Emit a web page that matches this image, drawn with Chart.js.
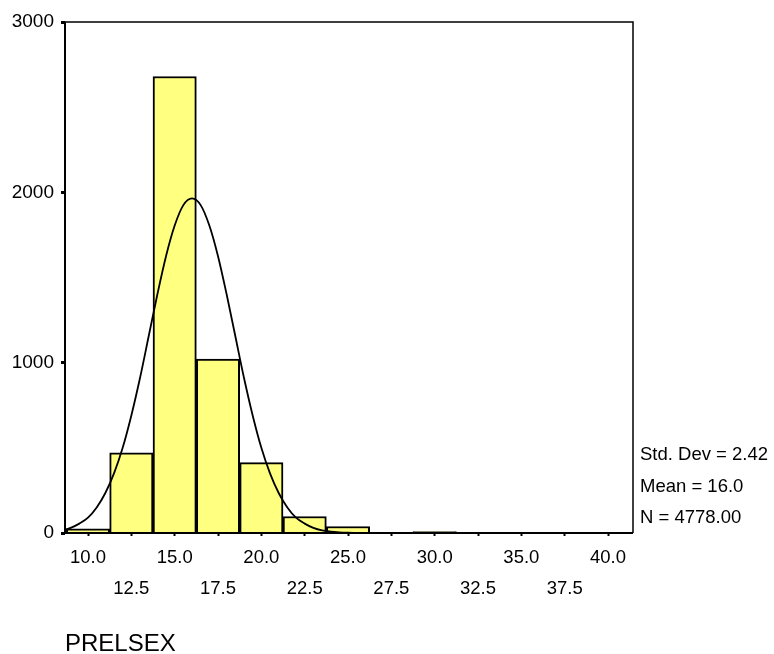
<!DOCTYPE html>
<html>
<head>
<meta charset="utf-8">
<title>PRELSEX</title>
<script src="https://cdn.jsdelivr.net/npm/chart.js@4.4.1/dist/chart.umd.min.js"></script>
<style>
    html, body { margin: 0; padding: 0; background: #fff; }
    canvas { display: block; }
</style>
</head>
<body>
<canvas id="histChart" width="774" height="654"></canvas>
<script>
// histogram bins (centre of each 2.5-wide bin) and their counts
const binCenters = [10.0, 12.5, 15.0, 17.5, 20.0, 22.5, 25.0, 27.5, 30.0, 32.5, 35.0, 37.5, 40.0];
const binCounts = [24, 471, 2680, 1021, 413, 97, 38, 0, 8, 0, 1, 0, 0];

// normal curve overlay
const curveX = [8.7, 9, 9.5, 10, 10.5, 11, 11.5, 12, 12.5, 13, 13.5, 14, 14.5, 15, 15.5, 16, 16.5,
    17, 17.5, 18, 18.5, 19, 19.5, 20, 20.5, 21, 21.5, 22, 22.5, 23, 23.5, 24, 24.5, 25, 25.5];
const curveY = [20, 30, 55, 90, 150, 235, 350, 500, 690, 910, 1155, 1400, 1625, 1805, 1925, 1965, 1925,
    1805, 1625, 1400, 1155, 910, 690, 500, 350, 235, 150, 90, 55, 30, 15, 8, 4, 2, 1];

const xTickValues = [10.0, 12.5, 15.0, 17.5, 20.0, 22.5, 25.0, 27.5, 30.0, 32.5, 35.0, 37.5, 40.0];
const yTickValues = [0, 1000, 2000, 3000];

const statLines = ['Std. Dev = 2.42', 'Mean = 16.0', 'N = 4778.00'];
const axisTitle = 'PRELSEX';

const FONT = '"Liberation Sans", Arial, sans-serif';

// frame around the plot area + summary text + variable name
const framePlugin = {
    id: 'frame',
    afterDraw(chart) {
        const { ctx, chartArea: a } = chart;
        ctx.save();
        ctx.strokeStyle = '#000';
        ctx.lineWidth = 1.5;
        ctx.beginPath();
        ctx.moveTo(a.left, a.top);
        ctx.lineTo(a.right, a.top);
        ctx.lineTo(a.right, a.bottom);
        ctx.stroke();
        ctx.lineWidth = 2;
        ctx.beginPath();
        ctx.moveTo(a.left, a.top);
        ctx.lineTo(a.left, a.bottom);
        ctx.lineTo(a.right, a.bottom);
        ctx.stroke();

        ctx.fillStyle = '#000';
        ctx.textBaseline = 'middle';
        ctx.textAlign = 'left';
        ctx.font = '18.5px ' + FONT;
        statLines.forEach((line, i) => {
            ctx.fillText(line, a.right + 7, 455 + i * 31.5);
        });

        ctx.font = '24px ' + FONT;
        ctx.fillText(axisTitle, a.left, 644);
        ctx.restore();
    }
};

new Chart(document.getElementById('histChart'), {
    type: 'bar',
    data: {
        datasets: [{
            type: 'line',
            data: curveX.map((x, i) => ({ x, y: curveY[i] })),
            borderColor: '#000',
            borderWidth: 1.8,
            pointRadius: 0,
            cubicInterpolationMode: 'monotone',
            fill: false,
            order: 0
        }, {
            type: 'bar',
            data: binCenters.map((x, i) => ({ x, y: binCounts[i] })),
            backgroundColor: '#FFFF80',
            borderColor: '#000',
            borderWidth: 2,
            barPercentage: 1,
            categoryPercentage: 1,
            order: 1
        }]
    },
    options: {
        responsive: false,
        animation: false,
        devicePixelRatio: 1,
        layout: { padding: { top: 22, right: 141, left: 0, bottom: 0 } },
        plugins: {
            legend: { display: false },
            tooltip: { enabled: false }
        },
        scales: {
            x: {
                type: 'linear',
                min: 8.673,
                max: 41.44,
                offset: false,
                afterFit: (scale) => { scale.height = 121; },
                afterBuildTicks: (scale) => {
                    scale.ticks = xTickValues.map(v => ({ value: v }));
                },
                border: { display: false },
                grid: {
                    offset: false,
                    drawOnChartArea: false,
                    drawTicks: true,
                    tickLength: 3,
                    tickWidth: 2,
                    tickColor: '#000'
                },
                ticks: {
                    autoSkip: false,
                    maxRotation: 0,
                    padding: 6,
                    color: '#000',
                    font: { family: FONT, size: 18.5, lineHeight: '31px' },
                    callback: (value, index) => {
                        const s = Number(value).toFixed(1);
                        return index % 2 === 0 ? [s, ''] : ['', s];
                    }
                }
            },
            y: {
                min: 0,
                max: 3000,
                afterFit: (scale) => { scale.width = 65; },
                afterBuildTicks: (scale) => {
                    scale.ticks = yTickValues.map(v => ({ value: v }));
                },
                border: { display: false },
                grid: {
                    drawOnChartArea: false,
                    drawTicks: true,
                    tickLength: 4,
                    tickWidth: 3,
                    tickColor: '#000'
                },
                ticks: {
                    padding: 7,
                    color: '#000',
                    font: { family: FONT, size: 19 },
                    callback: (value) => String(value)
                }
            }
        }
    },
    plugins: [framePlugin]
});
</script>
</body>
</html>
